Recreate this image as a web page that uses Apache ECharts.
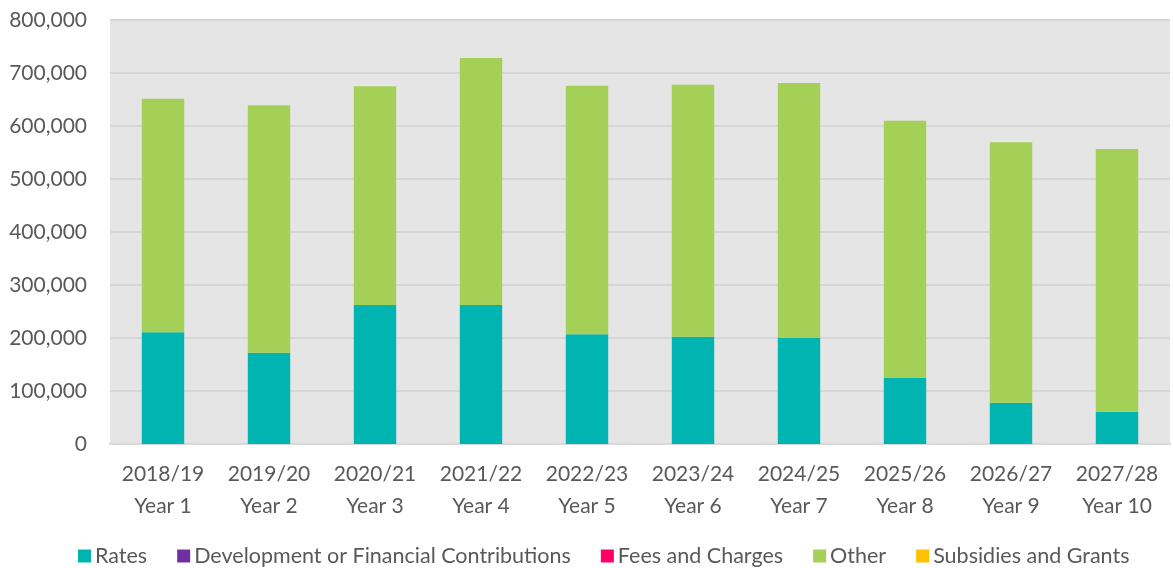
<!DOCTYPE html>
<html>
<head>
<meta charset="utf-8">
<script src="https://cdn.jsdelivr.net/npm/echarts@6/dist/echarts.min.js"></script>
<style>
  html, body { margin: 0; padding: 0; background: #fff; }
  #chart { width: 1173px; height: 568px; }
</style>
</head>
<body>
<div id="chart"></div>
<script>
// categories (two-line labels)
const years = ['2018/19', '2019/20', '2020/21', '2021/22', '2022/23', '2023/24', '2024/25', '2025/26', '2026/27', '2027/28'];
const yearNo = ['Year 1', 'Year 2', 'Year 3', 'Year 4', 'Year 5', 'Year 6', 'Year 7', 'Year 8', 'Year 9', 'Year 10'];

// series values
const rates = [210750, 172300, 262300, 262300, 207000, 202500, 200600, 125100, 77900, 61000];
const devContributions = [0, 0, 0, 0, 0, 0, 0, 0, 0, 0];
const feesCharges = [0, 0, 0, 0, 0, 0, 0, 0, 0, 0];
const other = [440750, 466700, 412600, 466000, 469000, 475500, 480500, 484900, 491300, 495600];
const subsidies = [0, 0, 0, 0, 0, 0, 0, 0, 0, 0];

const FONT = 'Lato, "Open Sans", sans-serif';
const TEXT_COLOR = '#595959';

const categories = years.map((y, i) => y + '\n' + yearNo[i]);

const makeSeries = (name, data, color) => ({
    name: name,
    type: 'bar',
    stack: 'total',
    data: data,
    barWidth: '40%',
    itemStyle: { color: color },
    emphasis: { disabled: true },
});

const chart = echarts.init(document.getElementById('chart'));
chart.setOption({
    animation: false,
    textStyle: { fontFamily: FONT },
    grid: {
        left: 110,
        right: 3,
        top: 20,
        bottom: 124,
        show: true,
        backgroundColor: '#E5E5E5',
        borderWidth: 0,
    },
    legend: {
        top: 540,
        left: 73,
        itemWidth: 13,
        itemHeight: 13,
        itemGap: 30,
        icon: 'rect',
        textStyle: { color: TEXT_COLOR, fontSize: 21.5, fontFamily: FONT, padding: [0, 0, 0, -1] },
        data: ['Rates', 'Development or Financial Contributions', 'Fees and Charges', 'Other', 'Subsidies and Grants'],
    },
    xAxis: {
        type: 'category',
        data: categories,
        axisTick: { show: false },
        axisLine: { lineStyle: { color: '#D9D9D9', width: 2 } },
        axisLabel: {
            color: TEXT_COLOR,
            fontSize: 21,
            lineHeight: 32,
            margin: 14,
            interval: 0,
        },
    },
    yAxis: {
        type: 'value',
        min: 0,
        max: 800000,
        interval: 100000,
        axisLine: { show: false },
        axisTick: { show: false },
        splitLine: { lineStyle: { color: '#D6D6D6', width: 2 } },
        axisLabel: {
            color: TEXT_COLOR,
            fontSize: 21,
            margin: 23,
            formatter: v => v.toLocaleString('en-US'),
        },
    },
    series: [
        makeSeries('Rates', rates, '#00B5B1'),
        makeSeries('Development or Financial Contributions', devContributions, '#7030A0'),
        makeSeries('Fees and Charges', feesCharges, '#FF0066'),
        makeSeries('Other', other, '#A5D057'),
        makeSeries('Subsidies and Grants', subsidies, '#FFC000'),
    ],
});
</script>
</body>
</html>
